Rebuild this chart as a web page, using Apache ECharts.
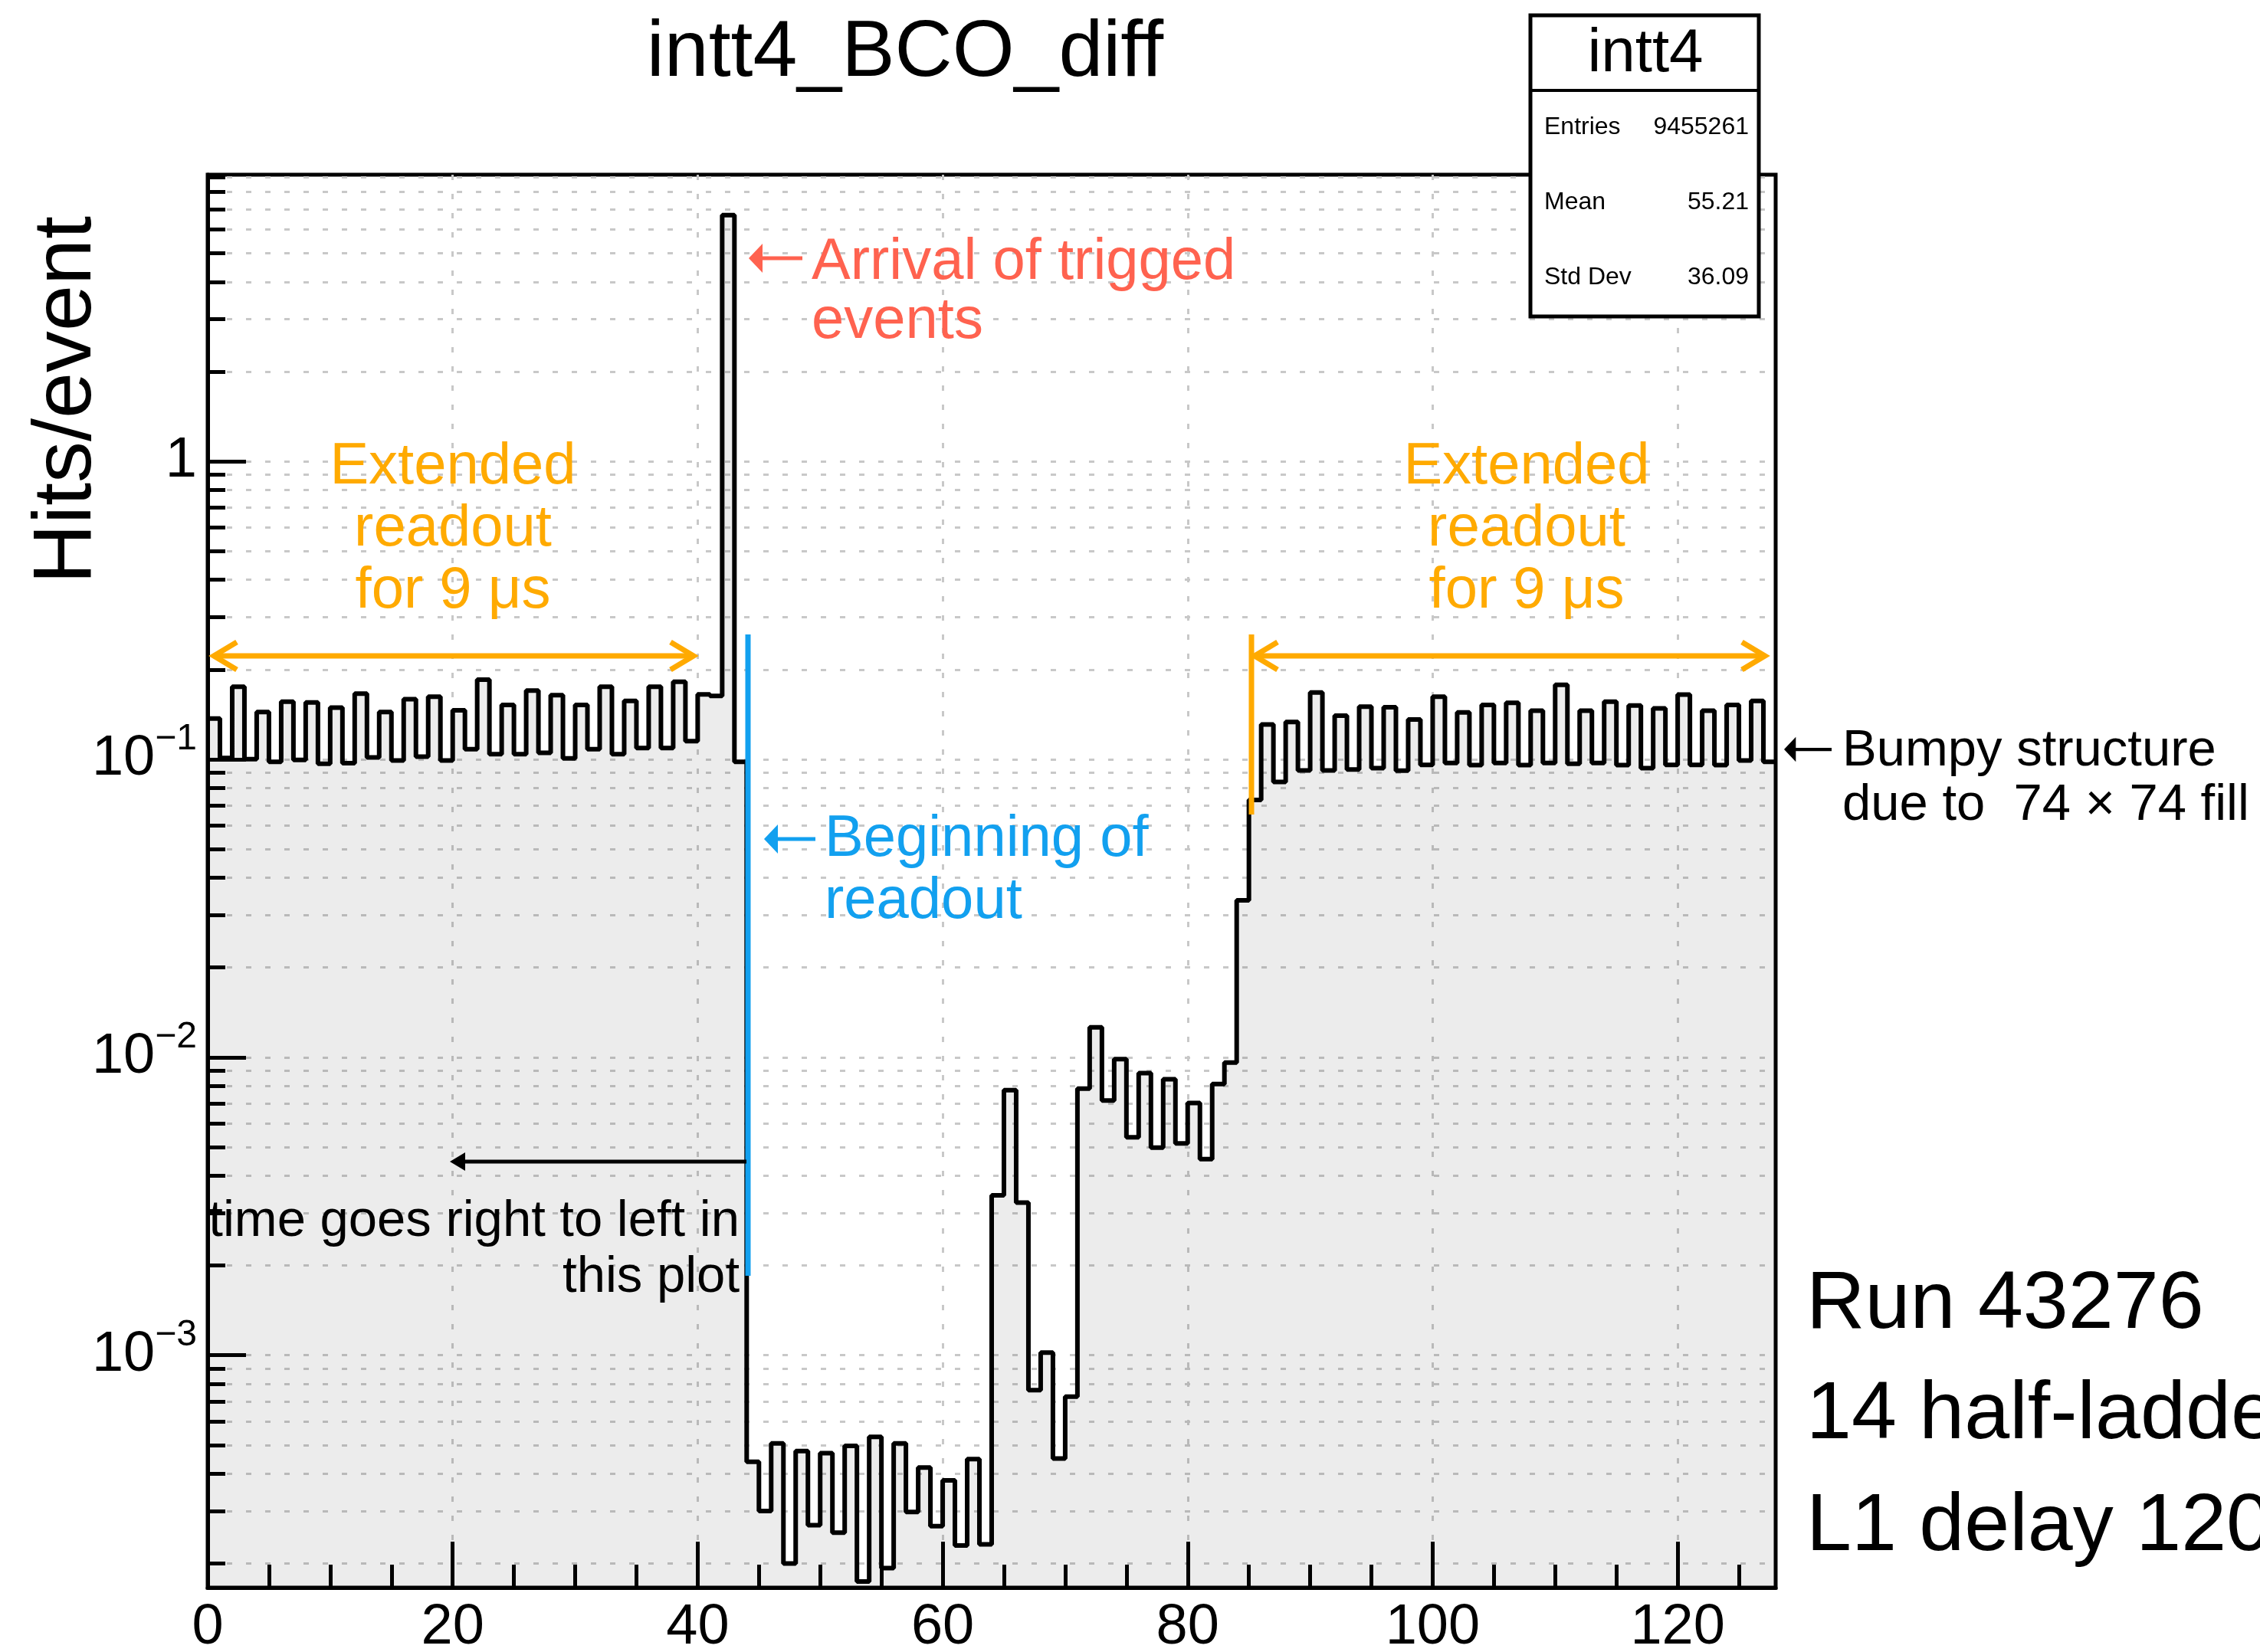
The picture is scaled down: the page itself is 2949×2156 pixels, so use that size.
<!DOCTYPE html>
<html>
<head>
<meta charset="utf-8">
<title>intt4_BCO_diff</title>
<script src="https://cdn.jsdelivr.net/npm/echarts@6/dist/echarts.min.js"></script>
<style>
html, body { margin: 0; padding: 0; background: #fff; }
#main { width: 2949px; height: 2156px; }
</style>
</head>
<body>
<div id="main"></div>
<script>
// hits per event in each BCO bin (bin k covers [k, k+1))
var hitsPerEvent = [
	0.137, 0.101, 0.175, 0.100, 0.144, 0.098, 0.156, 0.0994, 0.155, 0.0965,
	0.149, 0.097, 0.166, 0.1014, 0.144, 0.099, 0.159, 0.102, 0.162, 0.099,
	0.146, 0.108, 0.185, 0.104, 0.152, 0.104, 0.170, 0.105, 0.164, 0.1006,
	0.152, 0.108, 0.175, 0.104, 0.157, 0.109, 0.175, 0.109, 0.182, 0.115,
	0.165, 0.163, 6.70, 0.098, 4.39e-4, 3.0e-4, 5.06e-4, 2.0e-4, 4.77e-4, 2.69e-4,
	4.69e-4, 2.54e-4, 4.96e-4, 1.74e-4, 5.32e-4, 1.93e-4, 5.06e-4, 2.98e-4, 4.2e-4, 2.67e-4,
	3.8e-4, 2.3e-4, 4.48e-4, 2.32e-4, 3.44e-3, 7.75e-3, 3.25e-3, 7.63e-4, 1.02e-3, 4.5e-4,
	7.26e-4, 7.85e-3, 0.0126, 7.16e-3, 9.86e-3, 5.39e-3, 8.85e-3, 4.97e-3, 8.44e-3, 5.14e-3,
	7.02e-3, 4.55e-3, 8.13e-3, 9.59e-3, 0.0336, 0.073, 0.1307, 0.0839, 0.1334, 0.0917,
	0.1674, 0.0917, 0.140, 0.0924, 0.150, 0.0933, 0.1495, 0.0915, 0.136, 0.0957,
	0.162, 0.0971, 0.1436, 0.0955, 0.152, 0.0971, 0.1546, 0.0955, 0.1456, 0.0971,
	0.1776, 0.0965, 0.1456, 0.0971, 0.156, 0.0955, 0.1515, 0.0933, 0.148, 0.0957,
	0.1647, 0.0957, 0.1456, 0.0955, 0.152, 0.099, 0.157, 0.098
];
var xMajorTicks = [0, 20, 40, 60, 80, 100, 120];
var xMinorTicks = [5, 10, 15, 25, 30, 35, 45, 50, 55, 65, 70, 75, 85, 90, 95, 105, 110, 115, 125];
var yMajorTicks = [0.001, 0.01, 0.1, 1];
var yMinorTicks = [
	0.0002, 0.0003, 0.0004, 0.0005, 0.0006, 0.0007, 0.0008, 0.0009,
	0.002, 0.003, 0.004, 0.005, 0.006, 0.007, 0.008, 0.009,
	0.02, 0.03, 0.04, 0.05, 0.06, 0.07, 0.08, 0.09,
	0.2, 0.3, 0.4, 0.5, 0.6, 0.7, 0.8, 0.9,
	2, 3, 4, 5, 6, 7, 8, 9
];
var statNames = ['Entries', 'Mean', 'Std Dev'];
var statValues = ['9455261', '55.21', '36.09'];

var F = 'Liberation Sans, Arial, Helvetica, sans-serif';
var RED = '#FF624F', ORANGE = '#FFAA00', BLUE = '#12A0EF';

// step outline: one point per bin edge, last bin closed at x = 128
var histData = [];
for (var i = 0; i < hitsPerEvent.length; i++) {
	histData.push([i, hitsPerEvent[i]]);
}
histData.push([hitsPerEvent.length, hitsPerEvent[hitsPerEvent.length - 1]]);

var gridLine = { show: true, lineStyle: { color: '#c8c8c8', width: 3, type: [7, 18] } };

function txt(x, y, s, size, color, align) {
	return {
		type: 'text', x: x, y: y, z: 100,
		style: { text: s, fontSize: size, fontFamily: F, fill: color, align: align || 'left', verticalAlign: 'middle' }
	};
}
function line(x1, y1, x2, y2, color, w) {
	return { type: 'line', z: 100, shape: { x1: x1, y1: y1, x2: x2, y2: y2 }, style: { stroke: color, lineWidth: w } };
}
// "←" style arrow with filled head
function textArrow(tipX, y, endX, color, s) {
	return [
		line(tipX + 16 * s, y, endX, y, color, 5 * s),
		{ type: 'polygon', z: 100, shape: { points: [[tipX, y], [tipX + 18 * s, y - 19 * s], [tipX + 18 * s, y + 19 * s]] }, style: { fill: color } }
	];
}
function chevron(tipX, y, dir, color, w, dx, dy) {
	return { type: 'polyline', z: 100, shape: { points: [[tipX + dir * dx, y - dy], [tipX, y], [tipX + dir * dx, y + dy]] },
		style: { stroke: color, lineWidth: w, fill: null, lineJoin: 'miter' } };
}

var graphics = [];
// title and axis title
graphics.push(txt(1181, 70, 'intt4_BCO_diff', 104, '#000', 'center'));
graphics.push({
	type: 'text', x: 88, y: 522, rotation: Math.PI / 2, z: 100,
	style: { text: 'Hits/event', fontSize: 108, fontFamily: F, fill: '#000', align: 'center', verticalAlign: 'middle' }
});

// stats box
graphics.push({ type: 'rect', z: 90, shape: { x: 1997, y: 20, width: 298, height: 393 }, style: { fill: '#fff', stroke: '#000', lineWidth: 5 } });
graphics.push(line(1997, 118, 2295, 118, '#000', 4));
graphics.push(txt(2147, 71, 'intt4', 80, '#000', 'center'));
for (var s = 0; s < statNames.length; s++) {
	graphics.push(txt(2015, 166 + s * 98, statNames[s], 32, '#000', 'left'));
	graphics.push(txt(2282, 166 + s * 98, statValues[s], 32, '#000', 'right'));
}

// red annotation
graphics = graphics.concat(textArrow(977, 337, 1047, RED, 1));
graphics.push(txt(1059, 343, 'Arrival of trigged', 76, RED, 'left'));
graphics.push(txt(1059, 420, 'events', 76, RED, 'left'));

// orange annotations
graphics.push(line(279, 856, 905, 856, ORANGE, 7));
graphics.push(chevron(279, 856, 1, ORANGE, 7, 30, 18));
graphics.push(chevron(905, 856, -1, ORANGE, 7, 30, 18));
graphics.push(line(1637, 856, 2303, 856, ORANGE, 7));
graphics.push(chevron(1637, 856, 1, ORANGE, 7, 30, 18));
graphics.push(chevron(2303, 856, -1, ORANGE, 7, 30, 18));
graphics.push(line(1633, 828, 1633, 1063, ORANGE, 7));
var extLines = ['Extended', 'readout', 'for 9 \u03bcs'];
for (var k = 0; k < extLines.length; k++) {
	graphics.push(txt(591, 610 + k * 81, extLines[k], 76, ORANGE, 'center'));
	graphics.push(txt(1992, 610 + k * 81, extLines[k], 76, ORANGE, 'center'));
}

// blue annotation
graphics.push(line(976, 828, 976, 1665, BLUE, 7));
graphics = graphics.concat(textArrow(997, 1095, 1064, BLUE, 1));
graphics.push(txt(1076, 1096, 'Beginning of', 76, BLUE, 'left'));
graphics.push(txt(1076, 1177, 'readout', 76, BLUE, 'left'));

// black annotations
graphics.push(line(592, 1516, 974, 1516, '#000', 5));
graphics.push({ type: 'polygon', z: 100, shape: { points: [[587, 1516], [607, 1504], [607, 1528]] }, style: { fill: '#000' } });
graphics.push(txt(965, 1595, 'time goes right to left in', 67, '#000', 'right'));
graphics.push(txt(965, 1668, 'this plot', 67, '#000', 'right'));
graphics = graphics.concat(textArrow(2328, 978, 2390, '#000', 0.85));
graphics.push(txt(2404, 981, 'Bumpy structure', 67, '#000', 'left'));
graphics.push(txt(2404, 1052, 'due to  74 \u00d7 74 fill', 67, '#000', 'left'));
graphics.push(txt(2357, 1704, 'Run 43276', 106, '#000', 'left'));
graphics.push(txt(2357, 1848, '14 half-ladders', 106, '#000', 'left'));
graphics.push(txt(2357, 1994, 'L1 delay 120', 106, '#000', 'left'));

var myChart = echarts.init(document.getElementById('main'));
var option = {
	animation: false,
	backgroundColor: '#fff',
	grid: {
		left: 271, right: 632, top: 228, bottom: 84,
		containLabel: false, outerBoundsMode: 'none',
		show: true, backgroundColor: '#fff', borderColor: '#000', borderWidth: 5
	},
	xAxis: [{
		type: 'value', min: 0, max: 128, position: 'bottom',
		axisLine: { onZero: false, lineStyle: { color: '#000', width: 5 } },
		axisTick: { inside: true, length: 60, customValues: xMajorTicks, lineStyle: { color: '#000', width: 5 } },
		axisLabel: { customValues: xMajorTicks, fontSize: 74, lineHeight: 74, fontFamily: F, color: '#000', margin: 16 },
		splitLine: gridLine
	}, {
		type: 'value', min: 0, max: 128, position: 'bottom',
		axisLine: { show: false, onZero: false },
		axisTick: { inside: true, length: 30, customValues: xMinorTicks, lineStyle: { color: '#000', width: 5 } },
		axisLabel: { show: false },
		splitLine: { show: false }
	}],
	yAxis: [{
		type: 'log', logBase: 10, min: 1.66e-4, max: 9.15, position: 'left',
		axisLine: { show: true, onZero: false, lineStyle: { color: '#000', width: 5 } },
		axisTick: { inside: true, length: 50, customValues: yMajorTicks, lineStyle: { color: '#000', width: 5 } },
		axisLabel: {
			customValues: yMajorTicks, margin: 14,
			formatter: function (v) {
				var e = Math.round(Math.log(v) / Math.LN10);
				if (e === 0) return '{n|1}';
				return '{n|10}{s|\u2212' + (-e) + '}';
			},
			rich: {
				n: { fontSize: 74, lineHeight: 100, fontFamily: F, color: '#000' },
				s: { fontSize: 48, lineHeight: 48, fontFamily: F, color: '#000', verticalAlign: 'top' }
			}
		},
		splitLine: gridLine
	}, {
		type: 'log', logBase: 10, min: 1.66e-4, max: 9.15, position: 'left',
		axisLine: { show: false, onZero: false },
		axisTick: { inside: true, length: 23, customValues: yMinorTicks, lineStyle: { color: '#000', width: 5 } },
		axisLabel: { show: false },
		splitLine: gridLine
	}],
	series: [{
		name: 'intt4',
		type: 'line',
		step: 'end',
		symbol: 'none',
		xAxisIndex: 0,
		yAxisIndex: 0,
		data: histData,
		lineStyle: { color: '#000', width: 6 },
		areaStyle: { color: 'rgba(0,0,0,0.105)', origin: 'start' },
		z: 5
	}],
	graphic: graphics
};
myChart.setOption(option);
</script>
</body>
</html>
